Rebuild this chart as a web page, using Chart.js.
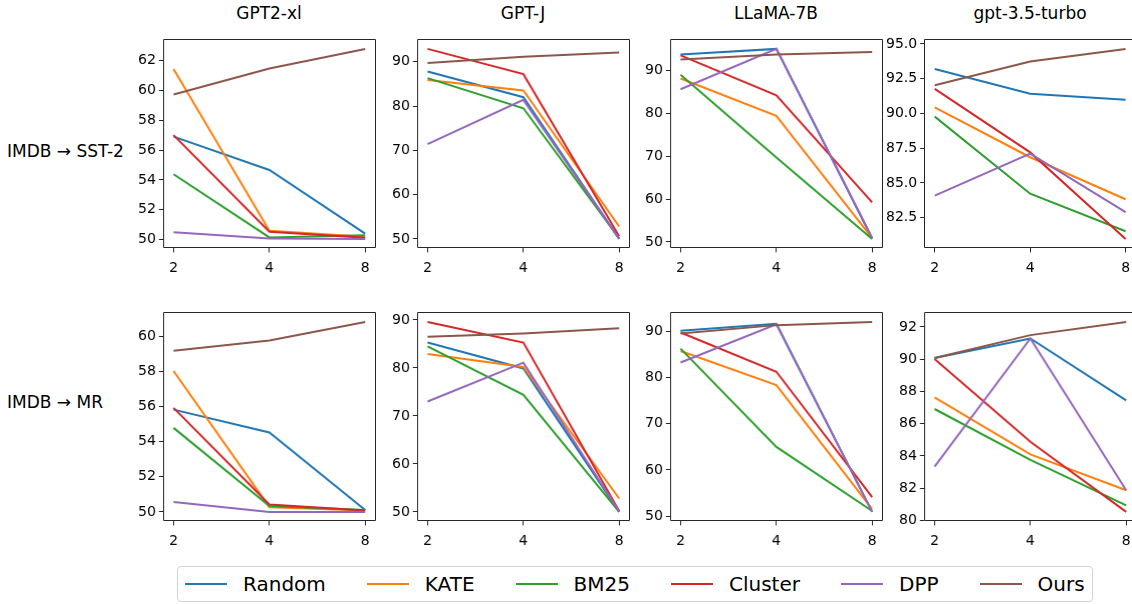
<!DOCTYPE html>
<html>
<head>
<meta charset="utf-8">
<script src="https://cdn.jsdelivr.net/npm/chart.js@4.4.1/dist/chart.umd.min.js"></script>
<style>
html,body{margin:0;padding:0;width:1132px;height:604px;overflow:hidden;background:#fff;font-family:"DejaVu Sans",sans-serif;position:relative;}
canvas{position:absolute;}
.title{position:absolute;font-size:17px;line-height:20px;color:#000;text-align:center;white-space:nowrap;}
.rowlab{position:absolute;font-size:17px;line-height:20px;color:#000;white-space:nowrap;}
#legend{position:absolute;left:177px;top:566px;height:36px;border:1px solid #d3d3d3;border-radius:4px;display:flex;align-items:center;padding:0 7px;box-sizing:border-box;background:#fff;font-size:20px;color:#000;}
.item{display:flex;align-items:center;margin-right:41px;white-space:nowrap;}
.item:last-child{margin-right:0;}
.swatch{width:42px;height:2px;margin-right:16px;}
</style>
</head>
<body>
<script>
// ---------- data ----------
const shots = [2, 4, 8];
const shotLabels = ['2', '4', '8'];
const methods = ['Random', 'KATE', 'BM25', 'Cluster', 'DPP', 'Ours'];
const models = ['GPT2-xl', 'GPT-J', 'LLaMA-7B', 'gpt-3.5-turbo'];
const tasks = ['IMDB → SST-2', 'IMDB → MR'];

// rows follow methods order: Random, KATE, BM25, Cluster, DPP, Ours
const sst2_gpt2xl = [
  [56.9, 54.67, 50.4],
  [61.44, 50.6, 50.2],
  [54.38, 50.15, 50.3],
  [57.0, 50.53, 50.13],
  [50.5, 50.07, 50.05],
  [59.73, 61.47, 62.78]
];
const sst2_gptj = [
  [87.8, 82.0, 50.0],
  [85.9, 83.5, 52.8],
  [86.3, 79.5, 50.1],
  [92.9, 87.2, 50.6],
  [71.4, 81.4, 50.0],
  [89.7, 91.1, 92.1]
];
const sst2_llama = [
  [93.7, 95.0, 50.8],
  [88.1, 79.4, 50.9],
  [89.0, 69.7, 50.7],
  [93.5, 84.2, 59.2],
  [85.6, 95.0, 50.9],
  [92.5, 93.7, 94.3]
];
const sst2_gpt35 = [
  [93.19, 91.41, 90.98],
  [90.44, 86.85, 83.83],
  [89.77, 84.23, 81.53],
  [91.77, 87.2, 80.98],
  [84.09, 87.11, 82.9],
  [92.03, 93.74, 94.64]
];
const mr_gpt2xl = [
  [55.83, 54.53, 50.11],
  [58.03, 50.27, 50.08],
  [54.79, 50.34, 50.11],
  [55.93, 50.42, 50.08],
  [50.57, 50.0, 50.0],
  [59.19, 59.77, 60.83]
];
const mr_gptj = [
  [85.3, 79.9, 50.0],
  [82.9, 80.2, 52.8],
  [84.5, 74.4, 50.0],
  [89.6, 85.3, 50.2],
  [73.0, 81.1, 50.1],
  [86.5, 87.2, 88.3]
];
const mr_llama = [
  [90.2, 91.7, 50.9],
  [85.8, 78.4, 51.5],
  [86.3, 65.0, 51.1],
  [89.8, 81.3, 54.1],
  [83.3, 91.6, 50.9],
  [89.6, 91.4, 92.1]
];
const mr_gpt35 = [
  [90.07, 91.28, 87.45],
  [87.63, 84.10, 81.87],
  [86.91, 83.75, 80.94],
  [90.01, 84.88, 80.53],
  [83.34, 91.28, 81.87],
  [90.07, 91.49, 92.31]
];

// y tick labels per panel
const ticks_sst2_gpt2xl = ['50', '52', '54', '56', '58', '60', '62'];
const ticks_sst2_gptj = ['50', '60', '70', '80', '90'];
const ticks_sst2_llama = ['50', '60', '70', '80', '90'];
const ticks_sst2_gpt35 = ['82.5', '85.0', '87.5', '90.0', '92.5', '95.0'];
const ticks_mr_gpt2xl = ['50', '52', '54', '56', '58', '60'];
const ticks_mr_gptj = ['50', '60', '70', '80', '90'];
const ticks_mr_llama = ['50', '60', '70', '80', '90'];
const ticks_mr_gpt35 = ['80', '82', '84', '86', '88', '90', '92'];

// ---------- style ----------
const colors = ['#1f77b4', '#ff7f0e', '#2ca02c', '#d62728', '#9467bd', '#8c564b'];
const PL = [163, 417, 670, 924];
const PT = [39, 312];
const PW = 212, PH = 209;

const panels = [
  [[sst2_gpt2xl, ticks_sst2_gpt2xl], [sst2_gptj, ticks_sst2_gptj], [sst2_llama, ticks_sst2_llama], [sst2_gpt35, ticks_sst2_gpt35]],
  [[mr_gpt2xl, ticks_mr_gpt2xl], [mr_gptj, ticks_mr_gptj], [mr_llama, ticks_mr_llama], [mr_gpt35, ticks_mr_gpt35]]
];

Chart.defaults.font.family = '"DejaVu Sans", sans-serif';
Chart.defaults.font.size = 14;
Chart.defaults.color = '#000';

const framePlugin = {
  id: 'frame',
  afterDraw(chart) {
    const a = chart.chartArea, ctx = chart.ctx;
    ctx.save();
    ctx.strokeStyle = '#262626';
    ctx.lineWidth = 1;
    const l = Math.round(a.left) + 0.5, t = Math.round(a.top) + 0.5;
    const r = Math.round(a.right) - 0.5, b = Math.round(a.bottom) - 0.5;
    ctx.beginPath();
    ctx.moveTo(l, t); ctx.lineTo(r, t); ctx.lineTo(r, b); ctx.lineTo(l, b); ctx.closePath();
    ctx.stroke();
    ctx.restore();
  }
};

// matplotlib-like 5% margins (in log2 units for x)
const lg = Math.log2(shots[shots.length - 1] / shots[0]);
const xm = lg * 0.05 / 0.9;
const xMin = shots[0] / Math.pow(2, xm);
const xMax = shots[shots.length - 1] * Math.pow(2, xm);

function buildPanel(r, c) {
  const [vals, tickLabels] = panels[r][c];
  const tickVals = tickLabels.map(Number);
  let lo = Infinity, hi = -Infinity;
  vals.forEach(row => row.forEach(v => { lo = Math.min(lo, v); hi = Math.max(hi, v); }));
  const pad = (hi - lo) * 0.05;

  const datasets = methods.map((m, i) => ({
    label: m,
    data: shots.map((s, k) => ({ x: s, y: vals[i][k] })),
    borderColor: colors[i],
    backgroundColor: colors[i],
    borderWidth: 2,
    pointRadius: 0,
    tension: 0,
    fill: false,
    order: methods.length - 1 - i
  }));

  const canvas = document.createElement('canvas');
  canvas.width = PW + 80;
  canvas.height = PH + 60;
  document.body.appendChild(canvas);

  const chart = new Chart(canvas, {
    type: 'line',
    data: { datasets },
    plugins: [framePlugin],
    options: {
      responsive: false,
      maintainAspectRatio: false,
      animation: false,
      layout: { padding: { top: 4, right: 6, left: 0, bottom: 0 } },
      plugins: { legend: { display: false }, tooltip: { enabled: false } },
      scales: {
        x: {
          type: 'logarithmic',
          min: xMin,
          max: xMax,
          afterBuildTicks: (axis) => { axis.ticks = shots.map(v => ({ value: v })); },
          ticks: {
            autoSkip: false, maxRotation: 0, padding: 8, color: '#000',
            callback: (v) => shotLabels[shots.indexOf(v)]
          },
          grid: { drawOnChartArea: false, drawTicks: true, tickLength: 4, tickColor: '#262626', tickWidth: 1 },
          border: { display: false }
        },
        y: {
          type: 'linear',
          min: lo - pad,
          max: hi + pad,
          afterBuildTicks: (axis) => { axis.ticks = tickVals.map(v => ({ value: v })); },
          ticks: {
            autoSkip: false, padding: 3, color: '#000',
            callback: (v, i) => tickLabels[i]
          },
          grid: { drawOnChartArea: false, drawTicks: true, tickLength: 4, tickColor: '#262626', tickWidth: 1 },
          border: { display: false }
        }
      }
    }
  });

  const a = chart.chartArea;
  const w = canvas.width + (PW - (a.right - a.left));
  const h = canvas.height + (PH - (a.bottom - a.top));
  chart.resize(w, h);
  const b = chart.chartArea;
  canvas.style.left = (PL[c] - b.left) + 'px';
  canvas.style.top = (PT[r] - b.top) + 'px';
}

for (let r = 0; r < 2; r++) for (let c = 0; c < 4; c++) buildPanel(r, c);

// column titles
models.forEach((m, c) => {
  const d = document.createElement('div');
  d.className = 'title';
  d.style.left = PL[c] + 'px';
  d.style.width = PW + 'px';
  d.style.top = '3px';
  d.textContent = m;
  document.body.appendChild(d);
});

// row labels
const rowTops = [141, 392];
tasks.forEach((t, r) => {
  const d = document.createElement('div');
  d.className = 'rowlab';
  d.style.left = '7px';
  d.style.top = rowTops[r] + 'px';
  d.textContent = t;
  document.body.appendChild(d);
});

// legend
const leg = document.createElement('div');
leg.id = 'legend';
methods.forEach((m, i) => {
  const it = document.createElement('div');
  it.className = 'item';
  const sw = document.createElement('span');
  sw.className = 'swatch';
  sw.style.background = colors[i];
  const tx = document.createElement('span');
  tx.textContent = m;
  it.appendChild(sw); it.appendChild(tx);
  leg.appendChild(it);
});
document.body.appendChild(leg);
</script>
</body>
</html>
